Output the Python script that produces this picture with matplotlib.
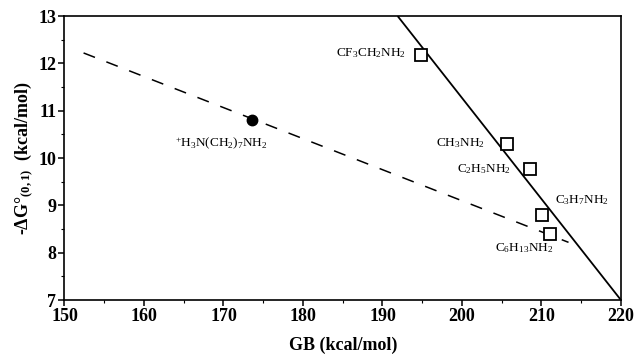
import matplotlib
matplotlib.use("Agg")
import matplotlib.pyplot as plt
import numpy as np

plt.rcParams["font.family"] = ["Liberation Serif", "DejaVu Serif"]
plt.rcParams["mathtext.fontset"] = "custom"
plt.rcParams["mathtext.rm"] = "Liberation Serif"
plt.rcParams["mathtext.it"] = "Liberation Serif:italic"
plt.rcParams["mathtext.bf"] = "Liberation Serif:bold"

# Monoamines (open squares)
amine_names = [r"CF$_3$CH$_2$NH$_2$", r"CH$_3$NH$_2$", r"C$_2$H$_5$NH$_2$",
               r"C$_3$H$_7$NH$_2$", r"C$_6$H$_{13}$NH$_2$"]
amine_gb = [194.8, 205.7, 208.6, 210.1, 211.1]
amine_dg = [12.18, 10.29, 9.77, 8.79, 8.39]

# Protonated diamine (filled circle)
diamine_name = r"$^{+}$H$_3$N(CH$_2$)$_7$NH$_2$"
diamine_gb = [173.6]
diamine_dg = [10.80]

# Correlation lines (end points)
solid_gb = [191.9, 220.0]
solid_dg = [13.0, 7.0]
dashed_gb = [152.4, 213.4]
dashed_dg = [12.22, 8.22]

# Label anchors: (x, y, horizontal alignment)
label_pos = [(192.9, 12.22, "right"), (202.9, 10.31, "right"), (206.2, 9.77, "right"),
             (211.7, 9.11, "left"), (204.1, 8.10, "left")]
diamine_label_pos = (163.9, 10.29)

fig = plt.figure(figsize=(6.36, 3.56), dpi=100)
ax = fig.add_axes([0.1014, 0.157, 0.8750, 0.798])

ax.plot(solid_gb, solid_dg, color="black", lw=1.3, solid_capstyle="butt")
ax.plot(dashed_gb, dashed_dg, color="black", lw=1.1, dashes=(8, 8))
ax.plot(amine_gb, amine_dg, linestyle="none", marker="s", ms=8,
        mfc="white", mec="black", mew=1.3, zorder=5)
ax.plot(diamine_gb, diamine_dg, linestyle="none", marker="o", ms=7.5,
        mfc="black", mec="black", zorder=5)

for name, (x, y, ha) in zip(amine_names, label_pos):
    ax.text(x, y, name, ha=ha, va="center", fontsize=9.5)
ax.text(diamine_label_pos[0], diamine_label_pos[1], diamine_name,
        ha="left", va="center", fontsize=9.5)

ax.set_xlim(150, 220)
ax.set_ylim(7, 13)
ax.set_xticks(np.arange(150, 221, 10))
ax.set_yticks(np.arange(7, 14, 1))
ax.set_xticks(np.arange(155, 220, 10), minor=True)
ax.set_yticks(np.arange(7.5, 13, 1), minor=True)
ax.tick_params(which="major", direction="out", length=4, width=1.1,
               labelsize=13, pad=2)
ax.tick_params(which="minor", direction="out", length=2.5, width=0.8)
for lab in ax.get_xticklabels() + ax.get_yticklabels():
    lab.set_fontweight("bold")
for sp in ax.spines.values():
    sp.set_linewidth(1.2)

ax.set_xlabel("GB (kcal/mol)", fontsize=13, fontweight="bold", labelpad=8)
ax.set_ylabel(r"-$\mathbf{\Delta}$G$\mathbf{°}_{\mathbf{(0,1)}}$  (kcal/mol)",
              fontsize=13, fontweight="bold", labelpad=2)

fig.savefig("out.png", dpi=100)
